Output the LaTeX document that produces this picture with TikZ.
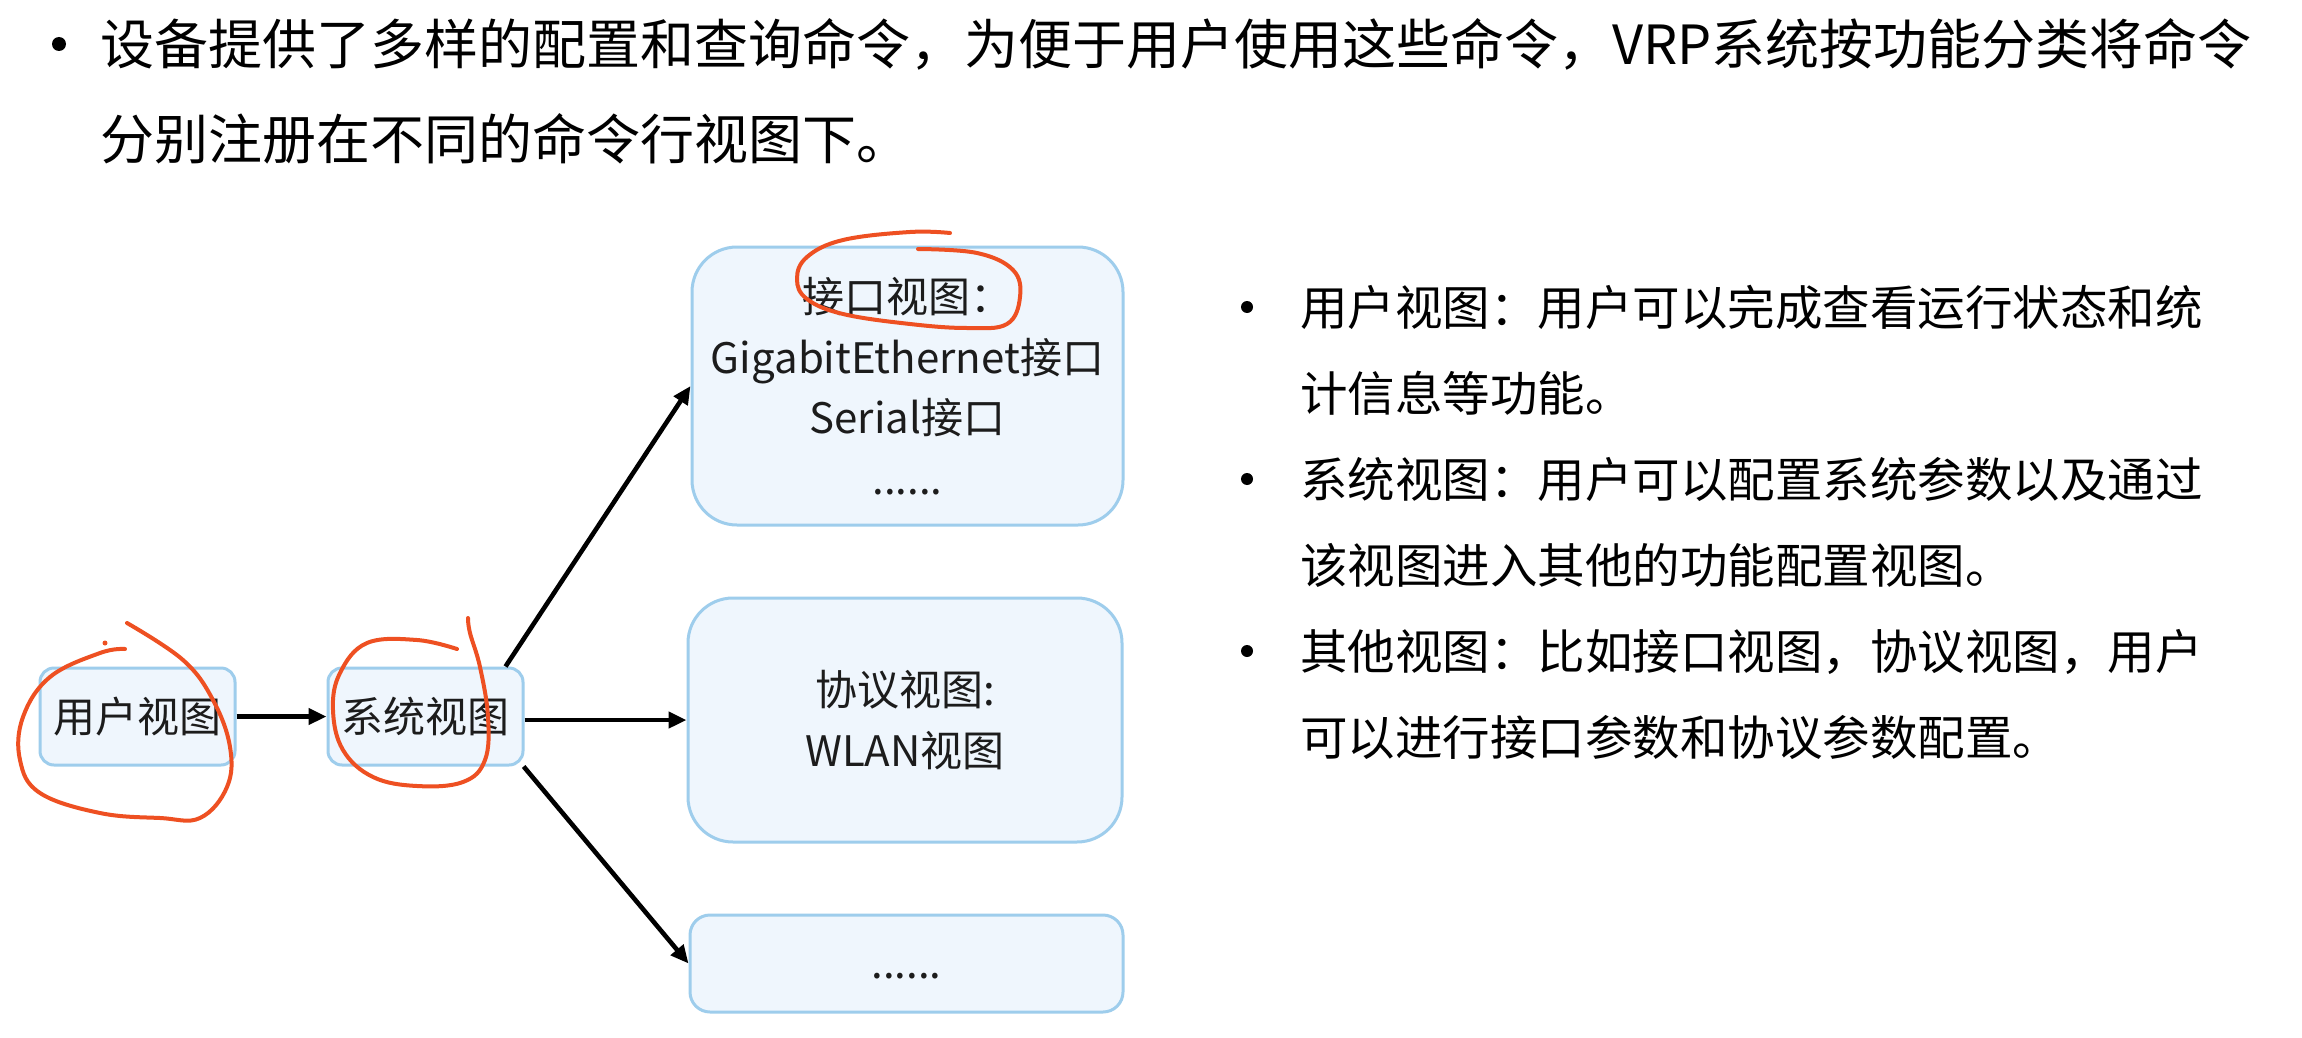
\documentclass[tikz,border=0pt]{standalone}
\usepackage{fontspec}
\setmainfont{Noto Sans CJK SC}
\usetikzlibrary{arrows.meta}
\definecolor{boxfill}{RGB}{239,246,253}
\definecolor{boxline}{RGB}{158,205,236}
\definecolor{ink}{RGB}{28,28,28}
\definecolor{pen}{RGB}{238,80,34}
\begin{document}
\begin{tikzpicture}[x=1pt,y=-1pt,
  viewbox/.style={draw=boxline, line width=3pt, fill=boxfill, inner sep=0pt,
    text=ink, align=center, font=\fontsize{42}{60.5}\selectfont},
  conn/.style={line width=4.6pt, draw=black, -{Triangle[length=18pt,width=16pt]}},
  bodytext/.style={anchor=base west, inner sep=0pt, text=black, font=\fontsize{47.5}{60}\selectfont},
  titletext/.style={anchor=base west, inner sep=0pt, text=black, font=\fontsize{54}{60}\selectfont},
  ann/.style={draw=pen, line width=4pt, line cap=round, line join=round}]
\useasboundingbox (0,0) rectangle (2302,1038);
\fill[white] (0,0) rectangle (2302,1038);

% title
\fill[black] (59,44) circle (7);
\node[titletext] (t1) at (100,64.5) {设备提供了多样的配置和查询命令，为便于用户使用这些命令，VRP系统按功能分类将命令};
\node[titletext] (t2) at (100,159.5) {分别注册在不同的命令行视图下。};

% boxes
\node[viewbox, rounded corners=14pt, minimum width=195pt, minimum height=97pt] (user) at (137.5,716.5) {用户视图};
\node[viewbox, rounded corners=14pt, minimum width=195pt, minimum height=97pt] (sys) at (425.5,716.5) {系统视图};
\node[viewbox, rounded corners=45pt, minimum width=431pt, minimum height=278pt] (up) at (907.5,386) {接口视图：\\GigabitEthernet接口\\Serial接口\\......};
\node[viewbox, rounded corners=45pt, minimum width=434pt, minimum height=244pt] (mid) at (905,720) {协议视图:\\WLAN视图};
\node[viewbox, rounded corners=20pt, minimum width=433pt, minimum height=97pt] (bot) at (906.5,963.5) {\vphantom{图}......};

% connectors
\draw[conn] (user.east) -- (sys.west);
\draw[conn] (sys.32) -- (up.west);
\draw[conn] (sys.east |- mid.west) -- (mid.west);
\draw[conn] (sys.-27) -- (bot.west);

% right text
\fill[black] (1247,307) circle (6);
\fill[black] (1247,479) circle (6);
\fill[black] (1247,651) circle (6);
\node[bodytext] (r1) at (1300,325) {用户视图：用户可以完成查看运行状态和统};
\node[bodytext] (r2) at (1300,411) {计信息等功能。};
\node[bodytext] (r3) at (1300,497) {系统视图：用户可以配置系统参数以及通过};
\node[bodytext] (r4) at (1300,583) {该视图进入其他的功能配置视图。};
\node[bodytext] (r5) at (1300,669) {其他视图：比如接口视图，协议视图，用户};
\node[bodytext] (r6) at (1300,755) {可以进行接口参数和协议参数配置。};

% hand-drawn annotations
\draw[ann] plot[smooth, tension=0.65] coordinates {(125,649) (100,653) (50,677) (23,717) (20,760) (40,793) (100,813) (160,818) (200,818) (227,787) (230,747) (213,700) (183,660) (127,623)};
\fill[pen] (105,643) circle (2.5);
\draw[ann] plot[smooth, tension=0.65] coordinates {(457,649) (417,640) (367,643) (340,673) (333,710) (343,750) (373,777) (417,786) (463,782) (485,760) (488,717) (480,667) (470,633) (468,618)};
\draw[ann] plot[smooth, tension=0.65] coordinates {(950,233) (910,232) (843,240) (807,257) (797,279) (807,299) (843,314) (910,324) (967,328) (1007,324) (1020,297) (1013,270) (977,253) (918,249)};
\end{tikzpicture}
\end{document}
